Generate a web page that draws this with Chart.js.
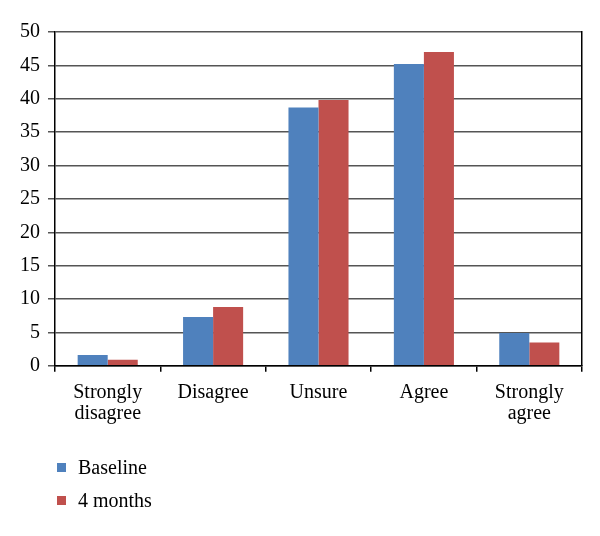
<!DOCTYPE html>
<html>
<head>
<meta charset="utf-8">
<script src="https://cdn.jsdelivr.net/npm/chart.js@4.4.1/dist/chart.umd.min.js"></script>
<style>
  html, body { margin: 0; padding: 0; background: #fff; }
  #wrap { position: relative; width: 600px; height: 536px; }
  #legend { position: absolute; left: 57px; top: 451px; font-family: "Liberation Serif", "DejaVu Serif", serif; font-size: 20px; color: #000; }
  .item { display: flex; align-items: center; height: 33px; }
  .sw { width: 9px; height: 9px; margin-right: 12px; }
</style>
</head>
<body>
<div id="wrap">
  <canvas id="c" width="600" height="536"></canvas>
  <div id="legend"></div>
</div>
<script>
const categories = [['Strongly', 'disagree'], 'Disagree', 'Unsure', 'Agree', ['Strongly', 'agree']];
const seriesNames = ['Baseline', '4 months'];
const baseline = [1.6, 7.3, 38.7, 45.2, 4.9];
const fourMonths = [0.9, 8.8, 39.8, 47.0, 3.5];
const colors = ['#4F81BD', '#C0504D'];
const yMin = 0, yMax = 50, yStep = 5;

const font = { family: '"Liberation Serif", "DejaVu Serif", serif', size: 20 };
const xFont = { family: '"Liberation Serif", "DejaVu Serif", serif', size: 20, lineHeight: 1.08 };

new Chart(document.getElementById('c'), {
  type: 'bar',
  data: {
    labels: categories,
    datasets: [
      { label: seriesNames[0], data: baseline, backgroundColor: colors[0] },
      { label: seriesNames[1], data: fourMonths, backgroundColor: colors[1] }
    ]
  },
  options: {
    responsive: false,
    animation: false,
    devicePixelRatio: 1,
    layout: { padding: { top: 32, right: 18, left: 12, bottom: 101 } },
    plugins: { legend: { display: false }, tooltip: { enabled: false } },
    datasets: { bar: { categoryPercentage: 0.57, barPercentage: 1.0 } },
    scales: {
      x: {
        grid: { offset: true, drawOnChartArea: false, drawTicks: true, tickLength: 6, color: '#000', lineWidth: 1.5 },
        border: { display: true, color: '#000', width: 1.5 },
        ticks: { color: '#000', font: xFont, padding: 10, maxRotation: 0, autoSkip: false }
      },
      y: {
        min: yMin, max: yMax,
        grid: { color: '#555', lineWidth: 1.5, tickLength: 7, drawTicks: true },
        border: { display: true, color: '#000', width: 1.5 },
        ticks: { stepSize: yStep, color: '#000', font: font, padding: 8 }
      },
      y2: {
        position: 'right', min: yMin, max: yMax,
        grid: { drawOnChartArea: false, drawTicks: false },
        border: { display: true, color: '#000', width: 1.5 },
        ticks: { display: false }
      }
    }
  }
});

const leg = document.getElementById('legend');
seriesNames.forEach((n, i) => {
  const d = document.createElement('div');
  d.className = 'item';
  d.innerHTML = '<span class="sw" style="background:' + colors[i] + '"></span><span>' + n + '</span>';
  leg.appendChild(d);
});
</script>
</body>
</html>
